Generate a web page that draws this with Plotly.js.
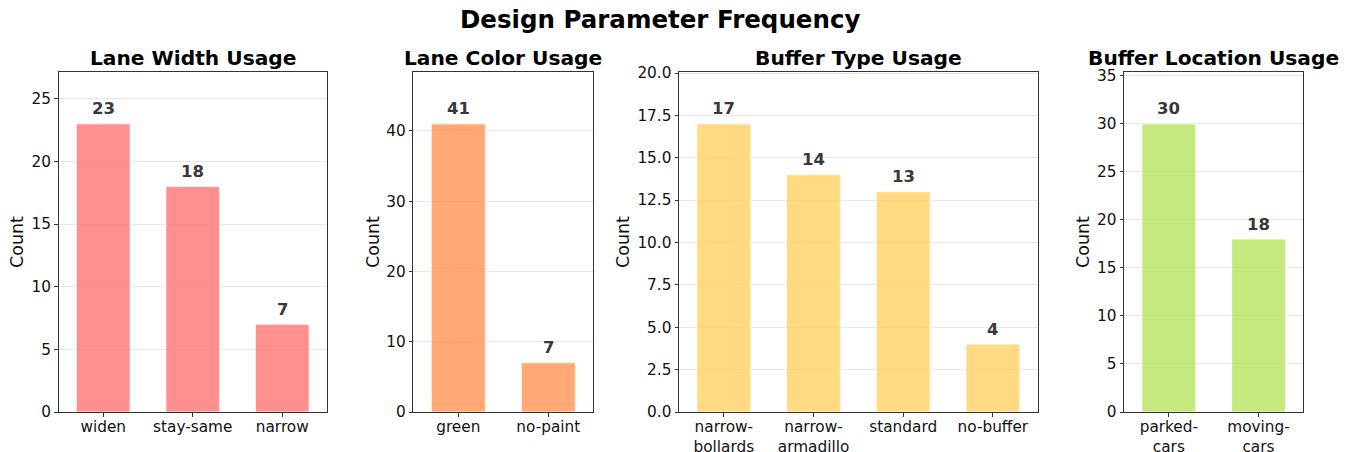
<!DOCTYPE html>
<html>
<head>
<meta charset="utf-8">
<script src="https://cdn.plot.ly/plotly-3.0.1.min.js"></script>
<style>html,body{margin:0;padding:0;background:#fff;}#chart{width:1353px;height:452px;}</style>
</head>
<body>
<div id="chart"></div>
<script>
// ---- data ----
const laneWidthCats = ['widen', 'stay-same', 'narrow'];
const laneWidthCounts = [23, 18, 7];
const laneColorCats = ['green', 'no-paint'];
const laneColorCounts = [41, 7];
const bufferTypeCats = ['narrow-<br>bollards', 'narrow-<br>armadillo', 'standard', 'no-buffer'];
const bufferTypeCounts = [17, 14, 13, 4];
const bufferLocCats = ['parked-<br>cars', 'moving-<br>cars'];
const bufferLocCounts = [30, 18];
const panelTitles = ['Lane Width Usage', 'Lane Color Usage', 'Buffer Type Usage', 'Buffer Location Usage'];
const suptitle = 'Design Parameter Frequency';
const yLabel = 'Count';

// ---- style ----
const W = 1353, H = 452;
const FONT = 'DejaVu Sans, sans-serif';
const panels = [
  {cats: laneWidthCats, vals: laneWidthCounts, color: 'rgba(255,107,107,0.75)', px: [58.5, 327], dtick: 5, fmt: 'd', countX: 17},
  {cats: laneColorCats, vals: laneColorCounts, color: 'rgba(255,140,70,0.75)', px: [413.3, 593.3], dtick: 10, fmt: 'd', countX: 373},
  {cats: bufferTypeCats, vals: bufferTypeCounts, color: 'rgba(255,206,90,0.75)', px: [679, 1037.7], dtick: 2.5, fmt: '.1f', countX: 623},
  {cats: bufferLocCats, vals: bufferLocCounts, color: 'rgba(168,224,63,0.68)', px: [1124, 1303.3], dtick: 5, fmt: 'd', countX: 1083}
];
const yTopPx = 72, yBotPx = 412;
const yDom = [1 - yBotPx / H, 1 - yTopPx / H];

const data = [];
const layout = {
  width: W, height: H,
  margin: {l: 0, r: 0, t: 0, b: 0},
  paper_bgcolor: '#fff', plot_bgcolor: '#fff',
  showlegend: false,
  bargap: 0.4,
  font: {family: FONT, color: '#111', size: 15.3},
  annotations: []
};

layout.annotations.push({
  text: '<b>' + suptitle + '</b>', xref: 'paper', yref: 'paper',
  x: 660 / W, y: 1 - 20 / H, xanchor: 'center', yanchor: 'middle',
  showarrow: false, font: {family: FONT, size: 24.5, color: '#000'}
});

panels.forEach((p, i) => {
  const n = i + 1;
  const xa = n === 1 ? 'x' : 'x' + n;
  const ya = n === 1 ? 'y' : 'y' + n;
  data.push({
    type: 'bar', x: p.cats, y: p.vals, xaxis: xa, yaxis: ya,
    marker: {color: p.color, line: {color: 'rgba(255,255,255,0.7)', width: 1}},
    hoverinfo: 'x+y'
  });
  const axX = 'xaxis' + (n === 1 ? '' : n);
  const axY = 'yaxis' + (n === 1 ? '' : n);
  layout[axX] = {
    domain: [p.px[0] / W, p.px[1] / W], anchor: ya, type: 'category',
    range: [-0.5, p.cats.length - 0.5], fixedrange: true,
    showline: true, mirror: true, linecolor: '#333', linewidth: 1,
    ticks: 'outside', ticklen: 3.5, tickcolor: '#333', tickwidth: 1,
    ticklabelstandoff: -3,
    showgrid: false, automargin: false,
    tickfont: {family: FONT, size: 15.3, color: '#111'}
  };
  const ymax = Math.max(...p.vals) * 1.18;
  layout[axY] = {
    domain: yDom, anchor: xa, range: [0, ymax], fixedrange: true,
    dtick: p.dtick, tick0: 0, tickformat: p.fmt,
    showline: true, mirror: true, linecolor: '#333', linewidth: 1,
    ticks: 'outside', ticklen: 3.5, tickcolor: '#333', tickwidth: 1,
    showgrid: true, gridcolor: 'rgba(0,0,0,0.09)', gridwidth: 1,
    zeroline: false, automargin: false,
    tickfont: {family: FONT, size: 15.3, color: '#111'}
  };
  // panel title
  layout.annotations.push({
    text: '<b>' + panelTitles[i] + '</b>', xref: 'paper', yref: 'paper',
    x: (p.px[0] + p.px[1]) / 2 / W, y: 1 - 58 / H, xanchor: 'center', yanchor: 'middle',
    showarrow: false, font: {family: FONT, size: 20.2, color: '#000'}
  });
  // y label
  layout.annotations.push({
    text: yLabel, xref: 'paper', yref: 'paper',
    x: p.countX / W, y: 1 - 242 / H, xanchor: 'center', yanchor: 'middle',
    textangle: -90, showarrow: false, font: {family: FONT, size: 17.5, color: '#111'}
  });
  // value labels
  p.vals.forEach((v, j) => {
    layout.annotations.push({
      text: '<b>' + v + '</b>', xref: xa, yref: ya, x: j, y: v,
      xanchor: 'center', yanchor: 'middle', yshift: 15, showarrow: false,
      font: {family: FONT, size: 16.5, color: '#383838'}
    });
  });
});

Plotly.newPlot('chart', data, layout, {displayModeBar: false, staticPlot: true});
</script>
</body>
</html>
